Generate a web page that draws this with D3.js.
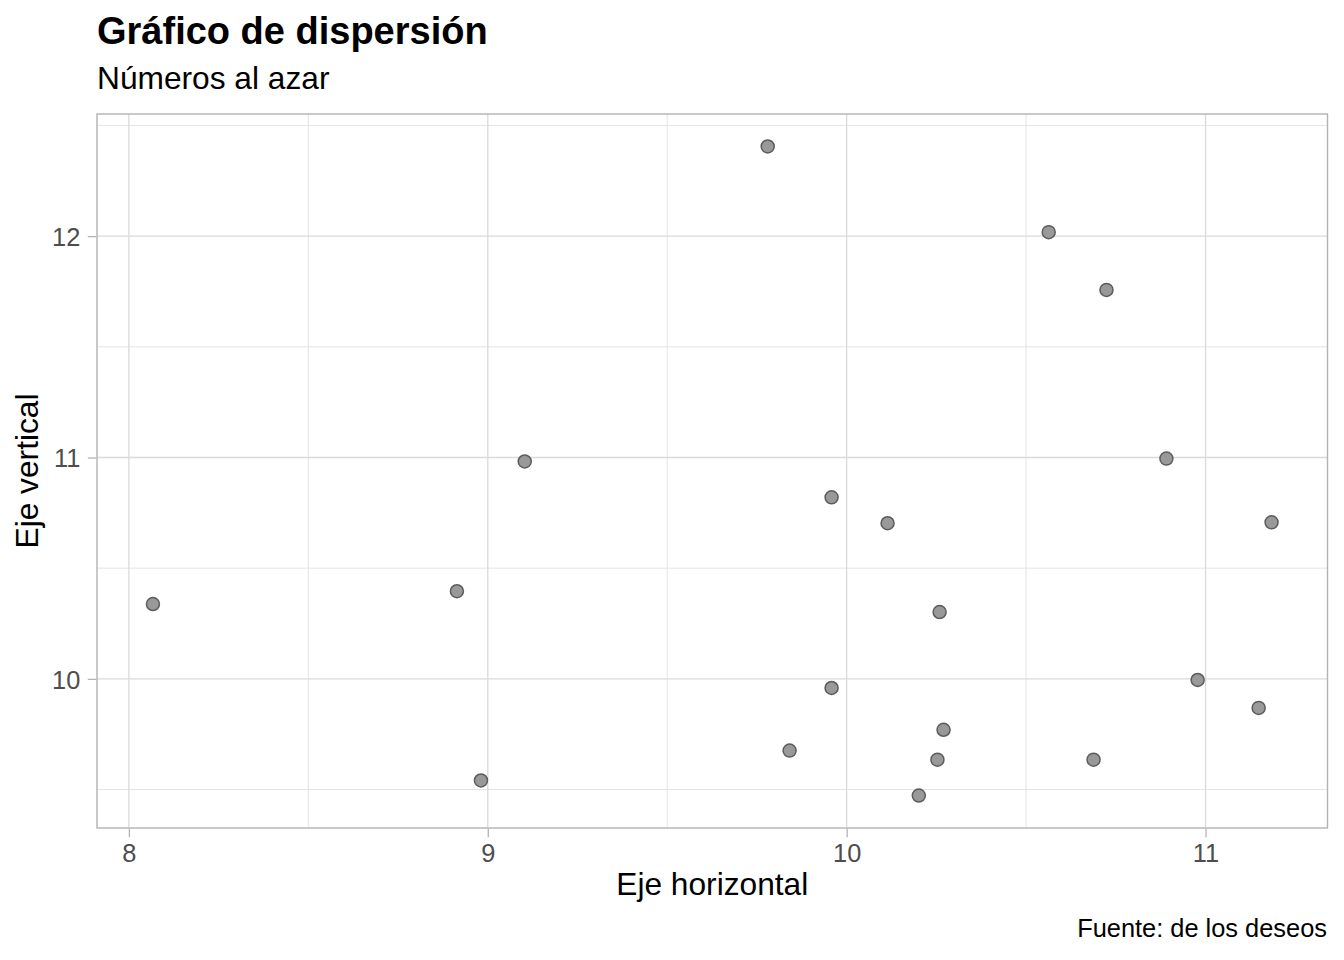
<!DOCTYPE html>
<html>
<head>
<meta charset="utf-8">
<script src="https://cdn.jsdelivr.net/npm/d3@7"></script>
<style>
  body { margin: 0; background: #fff; }
  svg { font-family: "Liberation Sans", Arial, Helvetica, sans-serif; }
</style>
</head>
<body>
<svg id="chart" width="1344" height="960"></svg>
<script>
// valores
var xValues = [9.780, 10.563, 10.724, 10.891, 9.103, 9.958, 10.114, 11.184, 8.067, 8.914,
               10.259, 10.978, 9.958, 11.148, 10.270, 9.841, 10.253, 10.688, 8.981, 10.201];
var yValues = [12.405, 12.018, 11.757, 10.995, 10.982, 10.820, 10.703, 10.707, 10.338, 10.396,
               10.302, 9.995, 9.959, 9.869, 9.770, 9.676, 9.635, 9.635, 9.541, 9.473];
var xTicks = [8, 9, 10, 11];
var yTicks = [10, 11, 12];
var xMinor = [8.5, 9.5, 10.5];
var yMinor = [9.5, 10.5, 11.5, 12.5];

var svg = d3.select("#chart");
var margin = { l: 97, r: 1327.5, t: 114, b: 828 };

// ggplot expande el rango un 5%
function expand(vals) {
    var ext = d3.extent(vals);
    var pad = (ext[1] - ext[0]) * 0.05;
    return [ext[0] - pad, ext[1] + pad];
}

var x = d3.scaleLinear().domain(expand(xValues)).range([margin.l, margin.r]);
var y = d3.scaleLinear().domain(expand(yValues)).range([margin.b, margin.t]);

// grilla menor
svg.append("g").selectAll("line").data(xMinor).join("line")
    .attr("x1", d => x(d)).attr("x2", d => x(d))
    .attr("y1", margin.t).attr("y2", margin.b)
    .attr("stroke", "#e4e4e4").attr("stroke-width", 1);
svg.append("g").selectAll("line").data(yMinor).join("line")
    .attr("x1", margin.l).attr("x2", margin.r)
    .attr("y1", d => y(d)).attr("y2", d => y(d))
    .attr("stroke", "#e4e4e4").attr("stroke-width", 1);

// grilla mayor
svg.append("g").selectAll("line").data(xTicks).join("line")
    .attr("x1", d => x(d)).attr("x2", d => x(d))
    .attr("y1", margin.t).attr("y2", margin.b)
    .attr("stroke", "#dadada").attr("stroke-width", 1.3);
svg.append("g").selectAll("line").data(yTicks).join("line")
    .attr("x1", margin.l).attr("x2", margin.r)
    .attr("y1", d => y(d)).attr("y2", d => y(d))
    .attr("stroke", "#dadada").attr("stroke-width", 1.3);

// puntos
svg.append("g").selectAll("circle").data(xValues).join("circle")
    .attr("cx", d => x(d))
    .attr("cy", (d, i) => y(yValues[i]))
    .attr("r", 6.5)
    .attr("fill", "#999999")
    .attr("stroke", "#5c5c5c")
    .attr("stroke-width", 1.5);

// borde del panel
svg.append("rect")
    .attr("x", margin.l).attr("y", margin.t)
    .attr("width", margin.r - margin.l).attr("height", margin.b - margin.t)
    .attr("fill", "none").attr("stroke", "#b3b3b3").attr("stroke-width", 1.4);

// ejes
var xAxis = svg.append("g")
    .attr("transform", "translate(0," + (margin.b + 0.7) + ")")
    .call(d3.axisBottom(x).tickValues(xTicks).tickSize(8.5).tickPadding(6).tickFormat(d3.format("d")));
var yAxis = svg.append("g")
    .attr("transform", "translate(" + (margin.l - 0.7) + ",0)")
    .call(d3.axisLeft(y).tickValues(yTicks).tickSize(8.5).tickPadding(6).tickFormat(d3.format("d")));

[xAxis, yAxis].forEach(function (a) {
    a.select(".domain").remove();
    a.selectAll(".tick line").attr("stroke", "#b3b3b3").attr("stroke-width", 1.3);
    a.selectAll(".tick text")
        .attr("fill", "#4d4d4d")
        .style("font-size", "25.4px")
        .style("font-family", "'Liberation Sans', Arial, sans-serif");
});
xAxis.selectAll(".tick text").attr("dy", null).attr("y", 0)
    .attr("transform", "translate(0,33.5)");
yAxis.selectAll(".tick text").attr("x", -16).attr("dy", "0.36em");

// titulos
svg.append("text")
    .attr("x", 97).attr("y", 44)
    .style("font-size", "38px").style("font-weight", "bold")
    .attr("fill", "#000")
    .text("Gráfico de dispersión");

svg.append("text")
    .attr("x", 97).attr("y", 89)
    .style("font-size", "31.7px")
    .attr("fill", "#000")
    .text("Números al azar");

svg.append("text")
    .attr("x", (margin.l + margin.r) / 2).attr("y", 895)
    .attr("text-anchor", "middle")
    .style("font-size", "31.7px")
    .attr("fill", "#000")
    .text("Eje horizontal");

svg.append("text")
    .attr("transform", "translate(38," + ((margin.t + margin.b) / 2) + ") rotate(-90)")
    .attr("text-anchor", "middle")
    .style("font-size", "31.7px")
    .attr("fill", "#000")
    .text("Eje vertical");

svg.append("text")
    .attr("x", 1327).attr("y", 937)
    .attr("text-anchor", "end")
    .style("font-size", "25.4px")
    .attr("fill", "#000")
    .text("Fuente: de los deseos");
</script>
</body>
</html>
